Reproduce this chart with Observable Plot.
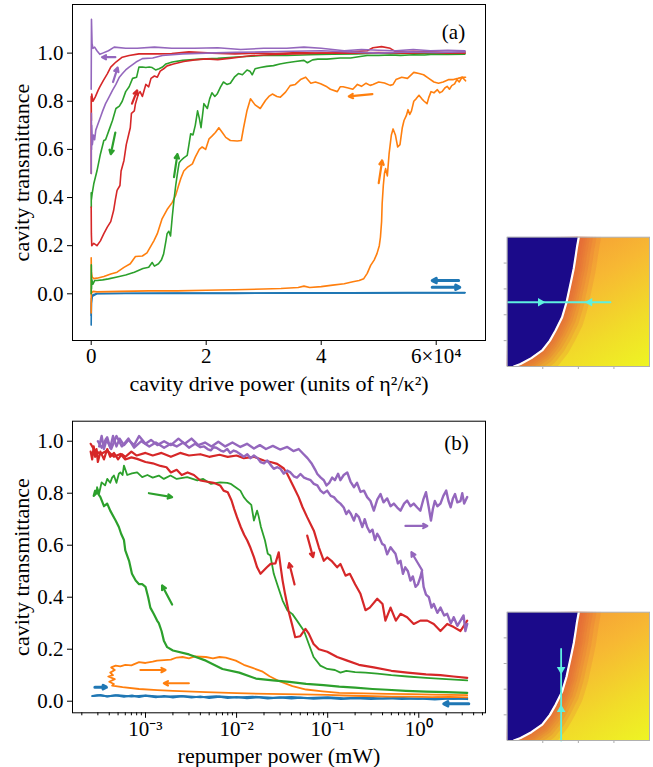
<!DOCTYPE html>
<html><head><meta charset="utf-8">
<script src="https://cdn.jsdelivr.net/npm/d3@7"></script>
<script src="https://cdn.jsdelivr.net/npm/@observablehq/plot@0.6"></script>
<style>
body{margin:0;background:#fff;}
.row{display:flex;flex-direction:row;align-items:flex-start;width:653px;}
.side{width:153px;}
</style></head><body>
<div class="row" style="height:400px"><div id="mainA"></div><div class="side" id="sideA" style="padding-top:230px"></div></div>
<div class="row" style="height:367px"><div id="mainB"></div><div class="side" id="sideB" style="padding-top:200px"></div></div>
<script>
// ---------- colours ----------
const C = {blue:"#1f77b4", orange:"#ff7f0e", green:"#2ca02c", red:"#d62728", purple:"#9467bd"};

// ---------- panel (a): x in units of 10^4 eta^2/kappa^2 ----------
const aBlueFwd = [[0,-0.13],[0.004,-0.02],[0.03,-0.004],[0.1,0.001],[0.6,0.002],[1.5,0.003],[2.5,0.003],[3.5,0.004],[4.5,0.004],[5.5,0.005],[6.5,0.005]];
const aBlueBwd = [[6.5,0.004],[5.5,0.004],[4.5,0.003],[3.5,0.003],[2.5,0.002],[1.5,0.002],[0.6,0.001],[0.1,0.0],[0.02,-0.01],[0.003,-0.04],[0,-0.09]];
const aOrangeFwd = [[0,0.0],[0.01,0.004],[0.03,0.01],[0.1,0.008],[0.5,0.01],[1,0.012],[1.5,0.012],[2,0.015],[2.5,0.017],[3,0.02],[3.3,0.022],[3.6,0.026],[3.7,0.032],[3.8,0.026],[4.0,0.03],[4.2,0.036],[4.4,0.042],[4.55,0.05],[4.66,0.055],[4.74,0.063],[4.8,0.085],[4.86,0.118],[4.92,0.14],[4.97,0.167],[5.01,0.2],[5.03,0.235],[5.05,0.3],[5.06,0.375],[5.08,0.45],[5.1,0.5],[5.12,0.52],[5.15,0.49],[5.18,0.58],[5.22,0.66],[5.25,0.685],[5.29,0.66],[5.33,0.61],[5.37,0.62],[5.41,0.69],[5.44,0.72],[5.48,0.74],[5.51,0.765],[5.54,0.745],[5.57,0.76],[5.61,0.8],[5.65,0.81],[5.7,0.825],[5.75,0.81],[5.79,0.8],[5.84,0.79],[5.87,0.815],[5.91,0.84],[5.96,0.835],[6.02,0.848],[6.06,0.835],[6.1,0.84],[6.15,0.855],[6.19,0.862],[6.23,0.85],[6.27,0.865],[6.32,0.872],[6.36,0.89],[6.4,0.88],[6.45,0.9],[6.48,0.893],[6.51,0.885]];
const aOrangeBwd = [[6.51,0.9],[6.45,0.9],[6.38,0.895],[6.3,0.89],[6.22,0.89],[6.12,0.88],[6.04,0.875],[5.96,0.88],[5.87,0.895],[5.78,0.91],[5.7,0.915],[5.61,0.92],[5.5,0.895],[5.4,0.9],[5.3,0.89],[5.25,0.87],[5.2,0.866],[5.1,0.876],[5.0,0.88],[4.9,0.87],[4.85,0.866],[4.78,0.875],[4.7,0.862],[4.63,0.87],[4.55,0.85],[4.47,0.855],[4.38,0.86],[4.33,0.86],[4.28,0.84],[4.16,0.85],[4.1,0.86],[3.99,0.873],[3.9,0.88],[3.82,0.875],[3.73,0.9],[3.64,0.89],[3.55,0.87],[3.46,0.865],[3.38,0.838],[3.29,0.817],[3.23,0.82],[3.15,0.83],[3.09,0.82],[3.03,0.803],[2.94,0.77],[2.85,0.785],[2.77,0.81],[2.71,0.762],[2.65,0.69],[2.61,0.637],[2.54,0.635],[2.42,0.637],[2.34,0.65],[2.28,0.67],[2.22,0.69],[2.16,0.67],[2.1,0.655],[2.05,0.644],[1.99,0.6],[1.93,0.61],[1.88,0.6],[1.81,0.568],[1.76,0.54],[1.67,0.525],[1.61,0.51],[1.56,0.48],[1.52,0.45],[1.47,0.41],[1.41,0.38],[1.32,0.35],[1.23,0.31],[1.15,0.25],[1.09,0.22],[0.97,0.17],[0.89,0.157],[0.77,0.155],[0.68,0.125],[0.57,0.11],[0.45,0.09],[0.34,0.082],[0.22,0.072],[0.1,0.065],[0.045,0.063],[0.016,0.07],[0.004,0.09],[0,0.15],[0.002,0.04],[0,-0.08]];
const aGreenFwd = [[0,0.0],[0.002,0.12],[0.005,0.02],[0.01,0.06],[0.03,0.04],[0.06,0.055],[0.1,0.055],[0.2,0.058],[0.3,0.062],[0.45,0.07],[0.6,0.078],[0.75,0.09],[0.9,0.105],[1.0,0.11],[1.06,0.13],[1.1,0.115],[1.17,0.125],[1.22,0.14],[1.26,0.166],[1.3,0.22],[1.32,0.25],[1.35,0.26],[1.38,0.24],[1.41,0.32],[1.44,0.39],[1.47,0.45],[1.5,0.5],[1.53,0.545],[1.56,0.554],[1.61,0.565],[1.67,0.575],[1.7,0.62],[1.73,0.665],[1.77,0.66],[1.81,0.7],[1.85,0.76],[1.88,0.73],[1.91,0.69],[1.96,0.79],[2.02,0.77],[2.06,0.81],[2.1,0.835],[2.15,0.82],[2.19,0.83],[2.25,0.86],[2.3,0.88],[2.36,0.87],[2.42,0.875],[2.49,0.9],[2.56,0.915],[2.63,0.91],[2.71,0.93],[2.76,0.925],[2.8,0.91],[2.85,0.935],[2.94,0.94],[3.05,0.945],[3.17,0.948],[3.28,0.955],[3.4,0.96],[3.55,0.965],[3.7,0.97],[3.76,0.96],[3.85,0.972],[3.94,0.975],[4.1,0.975],[4.33,0.98],[4.51,0.98],[4.65,0.985],[4.8,0.99],[5.0,0.99],[5.2,0.992],[5.38,0.99],[5.6,0.993],[5.8,0.992],[5.96,0.995],[6.2,0.994],[6.5,0.996]];
const aGreenBwd = [[6.5,1.0],[6.2,1.0],[5.9,0.998],[5.6,1.0],[5.3,0.998],[5.0,1.0],[4.6,0.997],[4.2,0.995],[3.8,0.993],[3.4,0.99],[3.0,0.99],[2.6,0.985],[2.2,0.978],[1.9,0.975],[1.59,0.97],[1.41,0.963],[1.3,0.955],[1.24,0.942],[1.18,0.935],[1.12,0.93],[1.06,0.94],[1.01,0.942],[0.95,0.94],[0.89,0.942],[0.83,0.942],[0.79,0.9],[0.72,0.895],[0.66,0.86],[0.6,0.84],[0.54,0.8],[0.49,0.78],[0.43,0.77],[0.37,0.72],[0.31,0.68],[0.25,0.64],[0.22,0.637],[0.16,0.58],[0.1,0.51],[0.045,0.457],[0.016,0.415],[0.003,0.39],[0,0.42],[0.002,0.36]];
const aRedFwd = [[0,0.36],[0.003,0.25],[0.01,0.2],[0.045,0.21],[0.1,0.2],[0.16,0.22],[0.22,0.25],[0.28,0.277],[0.34,0.3],[0.39,0.346],[0.42,0.39],[0.45,0.43],[0.5,0.45],[0.52,0.51],[0.57,0.554],[0.61,0.62],[0.65,0.66],[0.68,0.69],[0.7,0.75],[0.75,0.76],[0.77,0.79],[0.82,0.83],[0.85,0.84],[0.89,0.82],[0.95,0.87],[1.0,0.86],[1.04,0.895],[1.1,0.905],[1.15,0.9],[1.2,0.925],[1.26,0.935],[1.32,0.947],[1.43,0.955],[1.61,0.965],[1.8,0.972],[2.0,0.976],[2.2,0.973],[2.4,0.978],[2.6,0.984],[2.8,0.99],[3.1,0.993],[3.5,0.997],[4.0,1.0],[4.5,1.0],[5.0,1.002],[5.5,1.0],[6.0,1.003],[6.5,1.0]];
const aRedBwd = [[6.5,1.005],[6.2,1.0],[5.9,1.005],[5.6,1.008],[5.3,1.005],[5.2,1.02],[5.05,1.027],[4.9,1.022],[4.8,1.01],[4.5,1.005],[4.2,1.0],[3.9,1.0],[3.6,1.002],[3.2,0.998],[2.9,1.0],[2.5,0.997],[2.1,1.0],[1.7,1.005],[1.4,0.998],[1.12,0.997],[0.83,0.997],[0.66,0.99],[0.54,0.983],[0.43,0.963],[0.34,0.942],[0.28,0.914],[0.21,0.886],[0.15,0.86],[0.12,0.845],[0.07,0.817],[0.03,0.8],[0.01,0.83],[0,0.79],[0.004,0.72],[0,0.82],[0.002,0.5]];
const aPurpleFwd = [[0,0.5],[0.003,0.75],[0.006,0.6],[0.01,0.7],[0.02,0.62],[0.04,0.66],[0.06,0.64],[0.08,0.68],[0.11,0.7],[0.14,0.72],[0.17,0.74],[0.2,0.76],[0.25,0.79],[0.31,0.817],[0.37,0.845],[0.43,0.87],[0.49,0.9],[0.54,0.914],[0.6,0.93],[0.66,0.942],[0.78,0.963],[0.89,0.977],[1.07,0.98],[1.24,0.99],[1.59,0.997],[2.0,1.0],[2.5,1.003],[3.0,1.005],[3.5,1.008],[4.0,1.01],[4.5,1.005],[5.0,1.0],[5.5,1.005],[6.0,1.003],[6.5,1.005]];
const aPurpleBwd = [[6.5,1.01],[6.2,1.012],[5.9,1.01],[5.6,1.015],[5.3,1.01],[5.0,1.012],[4.7,1.015],[4.4,1.01],[4.0,1.02],[3.7,1.025],[3.4,1.02],[3.0,1.02],[2.6,1.015],[2.2,1.022],[1.8,1.02],[1.4,1.02],[1.1,1.025],[0.8,1.02],[0.6,1.02],[0.4,1.025],[0.3,1.01],[0.2,1.0],[0.15,0.995],[0.1,1.01],[0.06,1.025],[0.03,1.02],[0.015,1.04],[0.005,1.14],[0,0.85]];
const aArrows = [
  {x1:0.42,y1:0.983,x2:0.19,y2:0.983,c:"purple"},
  {x1:0.38,y1:0.88,x2:0.46,y2:0.94,c:"purple"},
  {x1:0.71,y1:0.79,x2:0.8,y2:0.845,c:"red"},
  {x1:0.42,y1:0.67,x2:0.34,y2:0.58,c:"green"},
  {x1:1.44,y1:0.485,x2:1.5,y2:0.58,c:"green"},
  {x1:4.89,y1:0.83,x2:4.48,y2:0.82,c:"orange"},
  {x1:5.0,y1:0.46,x2:5.06,y2:0.554,c:"orange"},
  {x1:6.39,y1:0.055,x2:5.93,y2:0.055,c:"blue"},
  {x1:5.93,y1:0.027,x2:6.41,y2:0.027,c:"blue"}
];

// ---------- panel (b): x = repumper power in mW ----------
const bBlueFwd = [[2.7e-4,0.02],[3.2e-4,0.024],[3.8e-4,0.018],[4.7e-4,0.023],[5.8e-4,0.017],[7.1e-4,0.022],[8.5e-4,0.016],[1e-3,0.021],[1.3e-3,0.015],[1.6e-3,0.02],[2e-3,0.014],[2.5e-3,0.019],[3.2e-3,0.014],[4e-3,0.018],[5e-3,0.012],[6.5e-3,0.017],[8e-3,0.012],[0.01,0.016],[0.013,0.011],[0.017,0.015],[0.022,0.01],[0.03,0.014],[0.04,0.01],[0.05,0.013],[0.07,0.009],[0.1,0.012],[0.14,0.008],[0.2,0.011],[0.3,0.008],[0.45,0.011],[0.65,0.008],[1,0.01],[1.5,0.007],[2.2,0.01],[3.4,0.008]];
const bBlueBwd = [[3.4,0.012],[2.4,0.009],[1.6,0.013],[1.0,0.009],[0.6,0.013],[0.4,0.01],[0.25,0.014],[0.15,0.011],[0.1,0.015],[0.06,0.012],[0.04,0.016],[0.025,0.013],[0.015,0.017],[0.01,0.014],[6e-3,0.019],[4e-3,0.015],[2.5e-3,0.02],[1.5e-3,0.017],[1e-3,0.022],[7e-4,0.018],[5e-4,0.023],[3.8e-4,0.019],[3e-4,0.023],[2.6e-4,0.02]];
const bOrangeLoop = [[3.4,0.015],[2.2,0.017],[1.4,0.016],[0.8,0.018],[0.5,0.018],[0.25,0.02],[0.15,0.022],[0.1,0.024],[0.05,0.026],[0.022,0.028],[0.01,0.031],[4.6e-3,0.035],[2e-3,0.04],[1.35e-3,0.043],[8.5e-4,0.047],[5.6e-4,0.054],[4.3e-4,0.06],
  [4.5e-4,0.066],[4.0e-4,0.075],[4.6e-4,0.085],[3.9e-4,0.095],[4.4e-4,0.1],[4.1e-4,0.11],[4.6e-4,0.12],[4.2e-4,0.13],[4.7e-4,0.137],
  [5.3e-4,0.134],[6e-4,0.14],[7e-4,0.138],[8.5e-4,0.15],[1e-3,0.147],[1.2e-3,0.152],[1.34e-3,0.156],[1.6e-3,0.158],[1.9e-3,0.16],[2.2e-3,0.168],[2.55e-3,0.17],[3e-3,0.165],[3.5e-3,0.172],[4.6e-3,0.17],[5.5e-3,0.165],[6.5e-3,0.17],[7.6e-3,0.168],[9.8e-3,0.156],[0.012,0.14],[0.015,0.128],[0.019,0.115],[0.023,0.096],[0.0295,0.077],[0.041,0.058],[0.058,0.045],[0.088,0.038],[0.134,0.032],[0.25,0.03],[0.45,0.028],[0.8,0.027],[1.4,0.025],[2.2,0.024],[3.4,0.023]];
const bGreenFwd = [[2.9e-4,0.8],[2.94e-4,0.823],[3.1e-4,0.8],[3.3e-4,0.842],[3.6e-4,0.83],[3.8e-4,0.855],[4.1e-4,0.84],[4.3e-4,0.86],[4.5e-4,0.868],[4.8e-4,0.84],[5.1e-4,0.875],[5.3e-4,0.88],[5.6e-4,0.87],[5.8e-4,0.906],[6.3e-4,0.87],[7.1e-4,0.876],[8.1e-4,0.88],[9.2e-4,0.862],[1.05e-3,0.87],[1.2e-3,0.86],[1.4e-3,0.868],[1.59e-3,0.855],[1.88e-3,0.868],[2.2e-3,0.855],[2.87e-3,0.862],[3.7e-3,0.849],[4.3e-3,0.855],[5.2e-3,0.836],[6.6e-3,0.842],[7.9e-3,0.84],[8.6e-3,0.836],[0.01,0.82],[0.011,0.81],[0.012,0.785],[0.013,0.77],[0.0145,0.755],[0.0155,0.695],[0.0168,0.733],[0.0175,0.71],[0.0185,0.67],[0.0205,0.618],[0.022,0.567],[0.0235,0.56],[0.0256,0.49],[0.0285,0.44],[0.032,0.387],[0.036,0.35],[0.041,0.335],[0.046,0.31],[0.055,0.27],[0.062,0.22],[0.07,0.17],[0.083,0.137],[0.099,0.124],[0.12,0.12],[0.138,0.11],[0.16,0.117],[0.2,0.112],[0.26,0.11],[0.35,0.106],[0.5,0.1],[0.75,0.095],[1.2,0.09],[2,0.085],[3.4,0.08]];
const bGreenBwd = [[3.4,0.032],[2,0.035],[1.2,0.037],[0.72,0.04],[0.45,0.044],[0.31,0.047],[0.2,0.052],[0.134,0.056],[0.09,0.062],[0.058,0.067],[0.038,0.074],[0.025,0.08],[0.0163,0.087],[0.0107,0.11],[7e-3,0.124],[4.6e-3,0.156],[3e-3,0.18],[2e-3,0.195],[1.73e-3,0.208],[1.59e-3,0.233],[1.5e-3,0.27],[1.4e-3,0.3],[1.34e-3,0.31],[1.23e-3,0.336],[1.13e-3,0.36],[1.07e-3,0.4],[1e-3,0.44],[9.2e-4,0.45],[8.5e-4,0.45],[7.8e-4,0.464],[7.1e-4,0.49],[6.6e-4,0.54],[6e-4,0.58],[5.8e-4,0.62],[5.4e-4,0.644],[5.1e-4,0.67],[4.7e-4,0.695],[4.1e-4,0.733],[3.8e-4,0.76],[3.5e-4,0.75],[3.2e-4,0.785],[2.94e-4,0.804],[2.8e-4,0.81],[2.7e-4,0.79],[2.9e-4,0.8]];
const bRedFwd = [[2.5e-4,0.96],[2.6e-4,0.93],[2.7e-4,0.98],[2.8e-4,0.94],[2.9e-4,0.97],[3e-4,0.92],[3.2e-4,0.96],[3.5e-4,0.93],[3.8e-4,0.97],[4.1e-4,0.94],[4.5e-4,0.955],[5e-4,0.93],[5.5e-4,0.95],[6e-4,0.94],[7e-4,0.96],[8e-4,0.945],[1e-3,0.955],[1.2e-3,0.945],[1.5e-3,0.955],[1.9e-3,0.94],[2.4e-3,0.955],[3e-3,0.945],[4e-3,0.95],[5e-3,0.94],[6.5e-3,0.948],[8e-3,0.94],[0.01,0.945],[0.012,0.935],[0.0155,0.94],[0.0199,0.926],[0.0236,0.92],[0.0279,0.913],[0.033,0.895],[0.036,0.874],[0.0425,0.823],[0.048,0.785],[0.053,0.746],[0.0595,0.708],[0.0705,0.656],[0.08,0.592],[0.0907,0.54],[0.0987,0.553],[0.11,0.54],[0.127,0.515],[0.138,0.528],[0.157,0.483],[0.175,0.49],[0.2,0.45],[0.229,0.413],[0.26,0.35],[0.29,0.36],[0.35,0.394],[0.4,0.374],[0.43,0.31],[0.49,0.36],[0.56,0.31],[0.63,0.336],[0.745,0.323],[0.88,0.297],[1.04,0.31],[1.24,0.31],[1.46,0.297],[1.73,0.27],[2.05,0.297],[2.42,0.285],[2.87,0.27],[3.4,0.31]];
const bRedBwd = [[3.4,0.09],[2.4,0.095],[1.73,0.1],[1.2,0.103],[0.75,0.11],[0.5,0.117],[0.32,0.13],[0.22,0.14],[0.164,0.156],[0.127,0.17],[0.099,0.19],[0.08,0.2],[0.07,0.22],[0.062,0.26],[0.057,0.278],[0.05,0.25],[0.044,0.246],[0.0405,0.297],[0.037,0.35],[0.034,0.413],[0.032,0.464],[0.0305,0.515],[0.029,0.573],[0.0267,0.53],[0.0236,0.528],[0.0215,0.515],[0.0183,0.49],[0.0168,0.515],[0.0155,0.554],[0.0142,0.59],[0.0131,0.618],[0.0121,0.64],[0.0111,0.67],[0.0101,0.708],[9.4e-3,0.74],[8.8e-3,0.772],[8e-3,0.804],[7.2e-3,0.81],[6.6e-3,0.83],[5.6e-3,0.84],[4.6e-3,0.845],[4e-3,0.849],[3.4e-3,0.87],[2.9e-3,0.88],[2.5e-3,0.87],[2.2e-3,0.89],[1.9e-3,0.88],[1.7e-3,0.9],[1.46e-3,0.905],[1.2e-3,0.915],[1e-3,0.92],[8.1e-4,0.932],[7e-4,0.938],[6e-4,0.93],[5.3e-4,0.951],[4.5e-4,0.94],[3.8e-4,0.964],[3.2e-4,0.95],[2.7e-4,0.97],[2.5e-4,0.99]];
const bPurpleFwd = [[3.1e-4,0.98],[3.3e-4,1.02],[3.5e-4,0.97],[3.8e-4,1.015],[4.1e-4,0.975],[4.4e-4,1.02],[4.8e-4,0.98],[5.2e-4,1.01],[5.8e-4,0.985],[6.5e-4,1.005],[7.5e-4,0.985],[8.5e-4,1.02],[1e-3,0.99],[1.15e-3,1.005],[1.35e-3,0.985],[1.6e-3,1.0],[1.9e-3,0.985],[2.3e-3,1.01],[2.7e-3,0.99],[3.2e-3,1.01],[3.8e-3,0.985],[4.5e-3,0.995],[5.3e-3,0.98],[6.3e-3,0.998],[7.5e-3,0.98],[9e-3,0.995],[0.011,0.978],[0.013,0.99],[0.0155,0.972],[0.018,0.985],[0.021,0.97],[0.025,0.982],[0.03,0.968],[0.036,0.978],[0.042,0.962],[0.048,0.97],[0.0545,0.95],[0.06,0.935],[0.067,0.913],[0.073,0.89],[0.077,0.874],[0.084,0.86],[0.0907,0.85],[0.097,0.83],[0.104,0.84],[0.112,0.86],[0.12,0.85],[0.13,0.875],[0.138,0.85],[0.15,0.87],[0.164,0.88],[0.178,0.845],[0.194,0.823],[0.21,0.84],[0.229,0.805],[0.25,0.81],[0.271,0.785],[0.295,0.77],[0.321,0.733],[0.35,0.775],[0.38,0.797],[0.41,0.765],[0.45,0.78],[0.49,0.75],[0.532,0.76],[0.58,0.745],[0.63,0.733],[0.69,0.76],[0.745,0.772],[0.81,0.75],[0.88,0.76],[0.96,0.745],[1.04,0.733],[1.12,0.775],[1.2,0.804],[1.28,0.75],[1.36,0.695],[1.43,0.74],[1.5,0.77],[1.6,0.75],[1.73,0.76],[1.86,0.79],[2.0,0.81],[2.12,0.77],[2.24,0.746],[2.37,0.78],[2.5,0.797],[2.65,0.765],[2.87,0.77],[3.0,0.8],[3.15,0.76],[3.4,0.785]];
const bPurpleBwd = [[3.4,0.297],[3.25,0.27],[3.1,0.33],[2.87,0.31],[2.65,0.29],[2.42,0.323],[2.25,0.3],[2.05,0.336],[1.9,0.33],[1.73,0.36],[1.6,0.34],[1.46,0.374],[1.38,0.36],[1.29,0.4],[1.2,0.41],[1.13,0.44],[1.08,0.5],[1.04,0.477],[0.98,0.45],[0.92,0.44],[0.86,0.48],[0.81,0.464],[0.76,0.5],[0.71,0.515],[0.67,0.49],[0.63,0.54],[0.59,0.53],[0.555,0.567],[0.52,0.58],[0.49,0.592],[0.45,0.565],[0.42,0.6],[0.396,0.605],[0.37,0.63],[0.35,0.644],[0.33,0.62],[0.31,0.66],[0.29,0.65],[0.271,0.67],[0.255,0.7],[0.24,0.67],[0.22,0.708],[0.205,0.72],[0.194,0.695],[0.18,0.72],[0.17,0.733],[0.16,0.72],[0.15,0.745],[0.138,0.76],[0.127,0.77],[0.117,0.785],[0.108,0.79],[0.0987,0.81],[0.09,0.8],[0.0834,0.81],[0.077,0.83],[0.0705,0.836],[0.065,0.85],[0.0595,0.855],[0.055,0.86],[0.0503,0.874],[0.046,0.86],[0.0425,0.865],[0.039,0.88],[0.0359,0.887],[0.033,0.875],[0.0303,0.894],[0.028,0.9],[0.0256,0.894],[0.0235,0.91],[0.0217,0.926],[0.02,0.915],[0.0183,0.92],[0.017,0.935],[0.0155,0.945],[0.0142,0.935],[0.0131,0.95],[0.012,0.94],[0.011,0.95],[0.01,0.96],[0.0093,0.964],[0.0085,0.955],[0.0079,0.97],[0.0072,0.96],[0.0067,0.964],[0.006,0.975],[0.0056,0.977],[0.0052,0.965],[0.0048,0.97],[0.0044,0.98],[0.004,0.977],[0.0035,0.99],[0.003,0.975],[0.0026,0.995],[0.0022,0.98],[0.0019,0.99],[0.0016,0.975],[0.0013,0.995],[0.0011,0.98],[0.0009,1.0],[0.00075,0.975],[0.00065,1.01],[0.00055,0.98],[0.00048,1.02],[0.00042,0.97],[0.00037,1.01],[0.00033,0.975],[0.0003,1.0]];
const bArrows = [
  {x1:1.09e-3,y1:0.8,x2:1.96e-3,y2:0.785,c:"green"},
  {x1:1.96e-3,y1:0.372,x2:1.52e-3,y2:0.445,c:"green"},
  {x1:8.8e-4,y1:0.12,x2:1.66e-3,y2:0.12,c:"orange"},
  {x1:2.99e-3,y1:0.069,x2:1.59e-3,y2:0.069,c:"orange"},
  {x1:2.78e-4,y1:0.054,x2:3.73e-4,y2:0.054,c:"blue"},
  {x1:3.54,y1:-0.01,x2:1.88,y2:-0.01,c:"blue"},
  {x1:0.0596,y1:0.637,x2:0.0692,y2:0.554,c:"red"},
  {x1:0.0433,y1:0.449,x2:0.0378,y2:0.531,c:"red"},
  {x1:0.714,y1:0.674,x2:1.24,y2:0.674,c:"purple"},
  {x1:1.09,y1:0.503,x2:0.83,y2:0.573,c:"purple"}
];

// tick values / labels
const aXTicks = [0,2,4,6];
const aXTickLabels = ["0","2","4","6×10⁴"];
const yTicks = [0,0.2,0.4,0.6,0.8,1.0];
const bXTicks = [1e-3,1e-2,1e-1,1];
const bXTickLabels = ["10⁻³","10⁻²","10⁻¹","10⁰"];
const bXMinor = [2e-4,3e-4,4e-4,5e-4,6e-4,7e-4,8e-4,9e-4,2e-3,3e-3,4e-3,5e-3,6e-3,7e-3,8e-3,9e-3,2e-2,3e-2,4e-2,5e-2,6e-2,7e-2,8e-2,9e-2,0.2,0.3,0.4,0.5,0.6,0.7,0.8,0.9,2,3,4,5];

// inset: phase boundary (normalised coordinates) and sweep paths
const boundaryX = [0.047,0.094,0.17,0.246,0.30,0.34,0.386,0.417,0.45,0.468,0.48,0.49,0.503];
const boundaryY = [0,0.02,0.065,0.124,0.2,0.278,0.381,0.497,0.665,0.76,0.845,0.92,1.0];
const sweepA = {x:[0.005,0.726], y:[0.497,0.497], heads:[[0.234,0.497,90],[0.58,0.497,-90]]};
const sweepB = {x:[0.379,0.379], y:[0,0.714], heads:[[0.379,0.553,180],[0.379,0.242,0]]};
const glowWidths = [5,9,13,17,22,28,35,44];

// ---------- drawing ----------
const FONT = "'Liberation Serif'";
function place(svg, id){
  svg.setAttribute("font-family", "Liberation Serif");
  svg.querySelectorAll("text").forEach(t => {
    t.setAttribute("font-family", "Liberation Serif");
    const g = t.closest("[font-size]");
    if (g) t.setAttribute("font-size", g.getAttribute("font-size"));
  });
  document.getElementById(id).appendChild(svg);
}
const xy = {x: d => d[0], y: d => d[1]};
function traceMarks(list, sw){
  return list.map(([data, c, w]) => Plot.line(data, {...xy, stroke: C[c], strokeWidth: w ?? sw, strokeLinejoin:"round"}));
}
function arrowMark(list){
  return Plot.arrow(list, {x1:"x1", y1:"y1", x2:"x2", y2:"y2", stroke: d => C[d.c], strokeWidth: d => d.c==="blue" ? 3 : 2.2, headLength: 7, headAngle: 55});
}

// panel (a)
const plotA = Plot.plot({
  width: 500, height: 400,
  marginLeft: 72, marginRight: 15, marginTop: 4, marginBottom: 60,
  x: {domain: [-0.325, 6.857]},
  y: {domain: [-0.194, 1.202]},
  style: {fontFamily: FONT, fontSize: "21px"},
  marks: [
    ...traceMarks([[aBlueFwd,"blue"],[aBlueBwd,"blue"],[aOrangeFwd,"orange"],[aOrangeBwd,"orange"],[aGreenFwd,"green"],[aGreenBwd,"green"],[aRedFwd,"red"],[aRedBwd,"red"],[aPurpleFwd,"purple"],[aPurpleBwd,"purple"]], 1.6),
    arrowMark(aArrows),
    Plot.axisX({ticks: aXTicks, tickFormat: d => aXTickLabels[aXTicks.indexOf(d)], tickSize: 5, tickPadding: 3, label: null, fontSize: 21}),
    Plot.axisY({ticks: yTicks, tickFormat: d3.format(".1f"), tickSize: 5, tickPadding: 4, label: null, fontSize: 21}),
    Plot.frame({stroke: "black", strokeWidth: 1}),
    Plot.text(["cavity transmittance"], {frameAnchor: "left", dx: -51, rotate: -90, fontSize: 22, textAnchor: "middle", lineAnchor: "middle"}),
    Plot.text(["cavity drive power (units of η²/κ²)"], {frameAnchor: "bottom", dy: 43, fontSize: 22, textAnchor: "middle", lineAnchor: "middle"}),
    Plot.text(["(a)"], {frameAnchor: "top-right", dx: -32, dy: 28, fontSize: 21, textAnchor: "middle", lineAnchor: "middle"})
  ]
});
place(plotA, "mainA");

// panel (b)
const plotB = Plot.plot({
  width: 500, height: 367,
  marginLeft: 72, marginRight: 15, marginTop: 20.7, marginBottom: 54.7,
  x: {type: "log", domain: [1.58e-4, 5.4]},
  y: {domain: [-0.0446, 1.077]},
  style: {fontFamily: FONT, fontSize: "21px"},
  marks: [
    ...traceMarks([[bBlueFwd,"blue",2],[bBlueBwd,"blue",2],[bOrangeLoop,"orange"],[bGreenFwd,"green"],[bGreenBwd,"green",2.2],[bRedFwd,"red",2.2],[bRedBwd,"red",2.2],[bPurpleFwd,"purple",2.4],[bPurpleBwd,"purple",2.4]], 1.8),
    arrowMark(bArrows),
    Plot.axisX({ticks: bXMinor, tickFormat: () => "", tickSize: 3, label: null}),
    Plot.axisX({ticks: bXTicks, tickFormat: d => bXTickLabels[bXTicks.indexOf(d)], tickSize: 5.5, tickPadding: 3, label: null, fontSize: 21}),
    Plot.axisY({ticks: yTicks, tickFormat: d3.format(".1f"), tickSize: 5, tickPadding: 4, label: null, fontSize: 21}),
    Plot.frame({stroke: "black", strokeWidth: 1}),
    Plot.text(["cavity transmittance"], {frameAnchor: "left", dx: -51, rotate: -90, fontSize: 22, textAnchor: "middle", lineAnchor: "middle"}),
    Plot.text(["repumper power (mW)"], {frameAnchor: "bottom", dy: 43, fontSize: 22, textAnchor: "middle", lineAnchor: "middle"}),
    Plot.text(["(b)"], {frameAnchor: "top-right", dx: -29, dy: 22, fontSize: 21, textAnchor: "middle", lineAnchor: "middle"})
  ]
});
place(plotB, "mainB");

// insets
function inset(id, sweep, mt, mb){
  const curve = boundaryX.map((x,i) => ({x, y: boundaryY[i]}));
  const path = sweep.x.map((x,i) => ({x, y: sweep.y[i]}));
  const heads = sweep.heads.map(([x,y,r]) => ({x,y,r}));
  const svg = Plot.plot({
    width: 153, height: 150,
    marginLeft: 6.7, marginRight: 4, marginTop: mt, marginBottom: mb,
    x: {domain: [0,1]}, y: {domain: [0,1]},
    marks: [
      Plot.frame({fill: `url(#${id})`, stroke: "none"}),
      ...glowWidths.slice().reverse().map(w => Plot.line(curve, {x: "x", y: "y", stroke: "#e4603a", strokeWidth: w, strokeOpacity: 0.17, clip: "frame"})),
      Plot.areaX(curve, {x1: 0, x2: "x", y: "y", fill: "#1b0a8a", clip: "frame"}),
      Plot.line(curve, {x: "x", y: "y", stroke: "white", strokeWidth: 2.2, clip: "frame"}),
      Plot.line(path, {x: "x", y: "y", stroke: "#5ef0e0", strokeWidth: 1.8}),
      Plot.dot(heads, {x: "x", y: "y", rotate: "r", symbol: "triangle", r: 3.2, fill: "#5ef0e0", stroke: "none"}),
      Plot.axisX({ticks: [0.25,0.5,0.75], tickFormat: () => "", tickSize: 3, stroke: "#aaa", label: null}),
      Plot.axisY({ticks: [0.2,0.4,0.6,0.8], tickFormat: () => "", tickSize: 3, stroke: "#aaa", label: null}),
      Plot.frame({stroke: "#b0b0b0", strokeWidth: 1})
    ]
  });
  svg.insertAdjacentHTML("afterbegin",
    `<defs><linearGradient id="${id}" x1="0.35" y1="0" x2="1" y2="1">
      <stop offset="0" stop-color="#f59a35"/><stop offset="0.35" stop-color="#f7b833"/>
      <stop offset="0.7" stop-color="#f1dc29"/><stop offset="1" stop-color="#eef523"/></linearGradient></defs>`);
  return svg;
}
place(inset("gA", sweepA, 6.7, 14), "sideA");
place(inset("gB", sweepB, 11.7, 10), "sideB");
</script></body></html>
